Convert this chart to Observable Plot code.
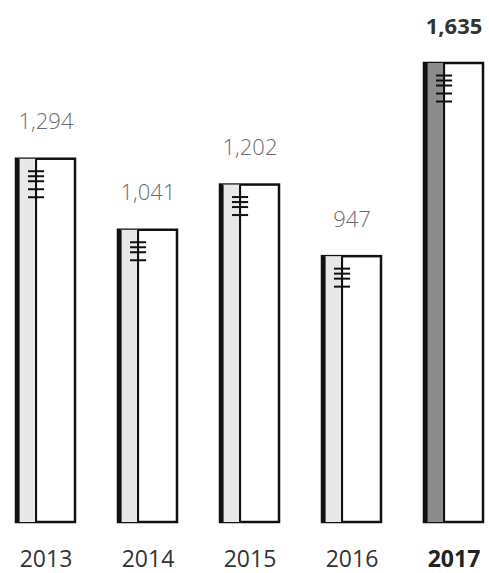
<!DOCTYPE html>
<html><head><meta charset="utf-8">
<script src="https://cdn.jsdelivr.net/npm/d3@7"></script>
<script src="https://cdn.jsdelivr.net/npm/@observablehq/plot@0.6"></script>
<style>body{margin:0;background:#fff}svg{display:block}</style>
</head><body><div id="chart"></div>
<script>
const years = ["2013", "2014", "2015", "2016", "2017"];
const values = [1294, 1041, 1202, 947, 1635];
const highlightYear = "2017";

const data = years.map((year, i) => ({year, value: values[i], hi: year === highlightYear}));
const normal = data.filter(d => !d.hi);
const hi = data.filter(d => d.hi);

const W = 489, H = 573;
const BW = 58.9; // approximate band width in px for insets
const tickOffsets = [12, 17, 22, 30];
const font = "'Open Sans', 'Noto Sans', sans-serif";

const tickMarks = tickOffsets.map(off => Plot.tickY(data, {
  x: "year", y: "value", dy: off, stroke: "#111", strokeWidth: 2,
  insetLeft: 12, insetRight: BW - 28
}));
const extraTicks = Plot.tickY(data.filter((d, i) => i === 0 || d.hi), {
  x: "year", y: "value", dy: 38, stroke: "#111", strokeWidth: 2,
  insetLeft: 12, insetRight: BW - 28
});

const chart = Plot.plot({
  width: W, height: H,
  marginLeft: 14, marginRight: 5, marginTop: 63, marginBottom: 51,
  x: {domain: years, paddingInner: 0.426, paddingOuter: 0, axis: null},
  y: {domain: [0, 1635], axis: null},
  style: {fontFamily: font, background: "#fff"},
  marks: [
    // white bar body with outline
    Plot.barY(data, {x: "year", y: "value", fill: "#fff", stroke: "#111", strokeWidth: 2.5}),
    // grey left portion
    Plot.barY(data, {x: "year", y: "value", fill: d => d.hi ? "#8c8c8c" : "#e8e8e8",
      insetLeft: 2, insetRight: BW - 20}),
    // thick left edge
    Plot.barY(data, {x: "year", y: "value", fill: "#111", insetLeft: -1, insetRight: BW - 3.5}),
    // inner vertical line
    Plot.barY(data, {x: "year", y: "value", fill: "#111", insetLeft: 19, insetRight: BW - 21}),
    ...tickMarks,
    extraTicks,
    // value labels
    Plot.text(normal, {x: "year", y: "value", text: d => d3.format(",")(d.value), dy: -30,
      lineAnchor: "bottom", fontSize: 22, fontWeight: 300, fill: "#6b6b6b"}),
    Plot.text(hi, {x: "year", y: "value", text: d => d3.format(",")(d.value), dy: -30,
      lineAnchor: "bottom", fontSize: 22, fontWeight: 700, fill: "#333"}),
    // year labels
    Plot.text(normal, {x: "year", y: 0, text: "year", dy: 44,
      lineAnchor: "bottom", fontSize: 23, fontWeight: 400, fill: "#333"}),
    Plot.text(hi, {x: "year", y: 0, text: "year", dy: 44,
      lineAnchor: "bottom", fontSize: 23, fontWeight: 700, fill: "#222"})
  ]
});
document.getElementById("chart").appendChild(chart);
</script>
</body></html>
